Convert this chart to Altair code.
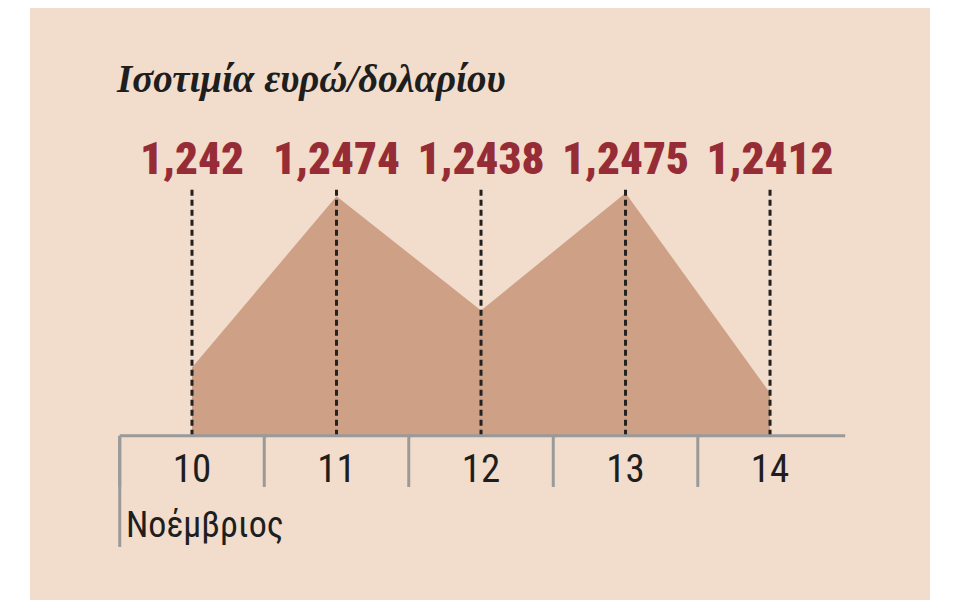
import altair as alt
import pandas as pd

days = [10, 11, 12, 13, 14]
rates = [1.242, 1.2474, 1.2438, 1.2475, 1.2412]
rate_labels = ["1,242", "1,2474", "1,2438", "1,2475", "1,2412"]
day_labels = ["10", "11", "12", "13", "14"]
title_text = "Ισοτιμία ευρώ/δολαρίου"
month_text = "Νοέμβριος"

df = pd.DataFrame({"day": days, "rate": rates, "label": rate_labels, "dlabel": day_labels})

BASE = 1.23985
DASH_TOP = 1.24760
DIV_BOTTOM = 1.23824
LEFT_BOTTOM = 1.23635

xs = alt.Scale(domain=[8.879, 15.107], nice=False, zero=False)
ys = alt.Scale(domain=[1.234679, 1.253328], nice=False, zero=False)


def X(f):
    return alt.X(f, scale=xs, axis=None)


def Y(f):
    return alt.Y(f, scale=ys, axis=None)


narrow = "Roboto Condensed, DejaVu Sans Condensed, sans-serif"

base = alt.Chart(df).transform_calculate(
    base=f"{BASE}", top=f"{DASH_TOP}", divb=f"{DIV_BOTTOM}",
    leftb=f"{LEFT_BOTTOM}", pos="datum.day - 0.5", pos2="datum.day + 0.52",
)

area = base.mark_area(color="#cea086", opacity=1).encode(
    x=X("day:Q"), y=Y("rate:Q"), y2="base:Q"
)
dashes = base.mark_rule(color="#222222", strokeWidth=3, strokeDash=[6, 4]).encode(
    x=X("day:Q"), y=Y("top:Q"), y2="base:Q"
)
axis_line = base.mark_rule(color="#9a9a9a", strokeWidth=3).encode(
    x=X("pos:Q"), x2="pos2:Q", y=Y("base:Q")
)
div_rules = base.mark_rule(color="#9a9a9a", strokeWidth=3).encode(
    x=X("pos:Q"), y=Y("base:Q"), y2="divb:Q"
)
left_rule = base.mark_rule(color="#9a9a9a", strokeWidth=3).encode(
    x=X("pos:Q"), y=Y("base:Q"), y2="leftb:Q"
).transform_filter(alt.datum.day == days[0])
vlabels = base.mark_text(
    font=narrow, fontSize=45, fontWeight=900, color="#962d36", baseline="alphabetic", align="center"
).encode(x=X("day:Q"), y=alt.value(166), text="label:N")
dlabels = base.mark_text(
    font=narrow, fontSize=39, color="#1e1e1e", baseline="alphabetic", align="center"
).encode(x=X("day:Q"), y=alt.value(474), text="dlabel:N")
title = base.mark_text(
    font="Liberation Serif", fontStyle="italic", fontWeight="bold", fontSize=39, color="#1e1e1e",
    baseline="alphabetic", align="left", text=title_text,
).encode(x=alt.value(87), y=alt.value(84)).transform_filter(alt.datum.day == days[0])
month = base.mark_text(
    font=narrow, fontSize=36, color="#1e1e1e", baseline="alphabetic", align="left", text=month_text,
).encode(x=alt.value(96), y=alt.value(529)).transform_filter(alt.datum.day == days[0])

chart = alt.layer(area, dashes, axis_line, div_rules, left_rule, vlabels, dlabels, title, month).properties(
    width=900, height=592, background="white",
    padding={"left": 22, "top": 0, "right": 0, "bottom": 0},
    autosize=alt.AutoSizeParams(type="none"),
).configure_view(fill="#f2dccb", stroke=None)

chart.save("out.html", embed_options={"renderer": "svg", "actions": False})
